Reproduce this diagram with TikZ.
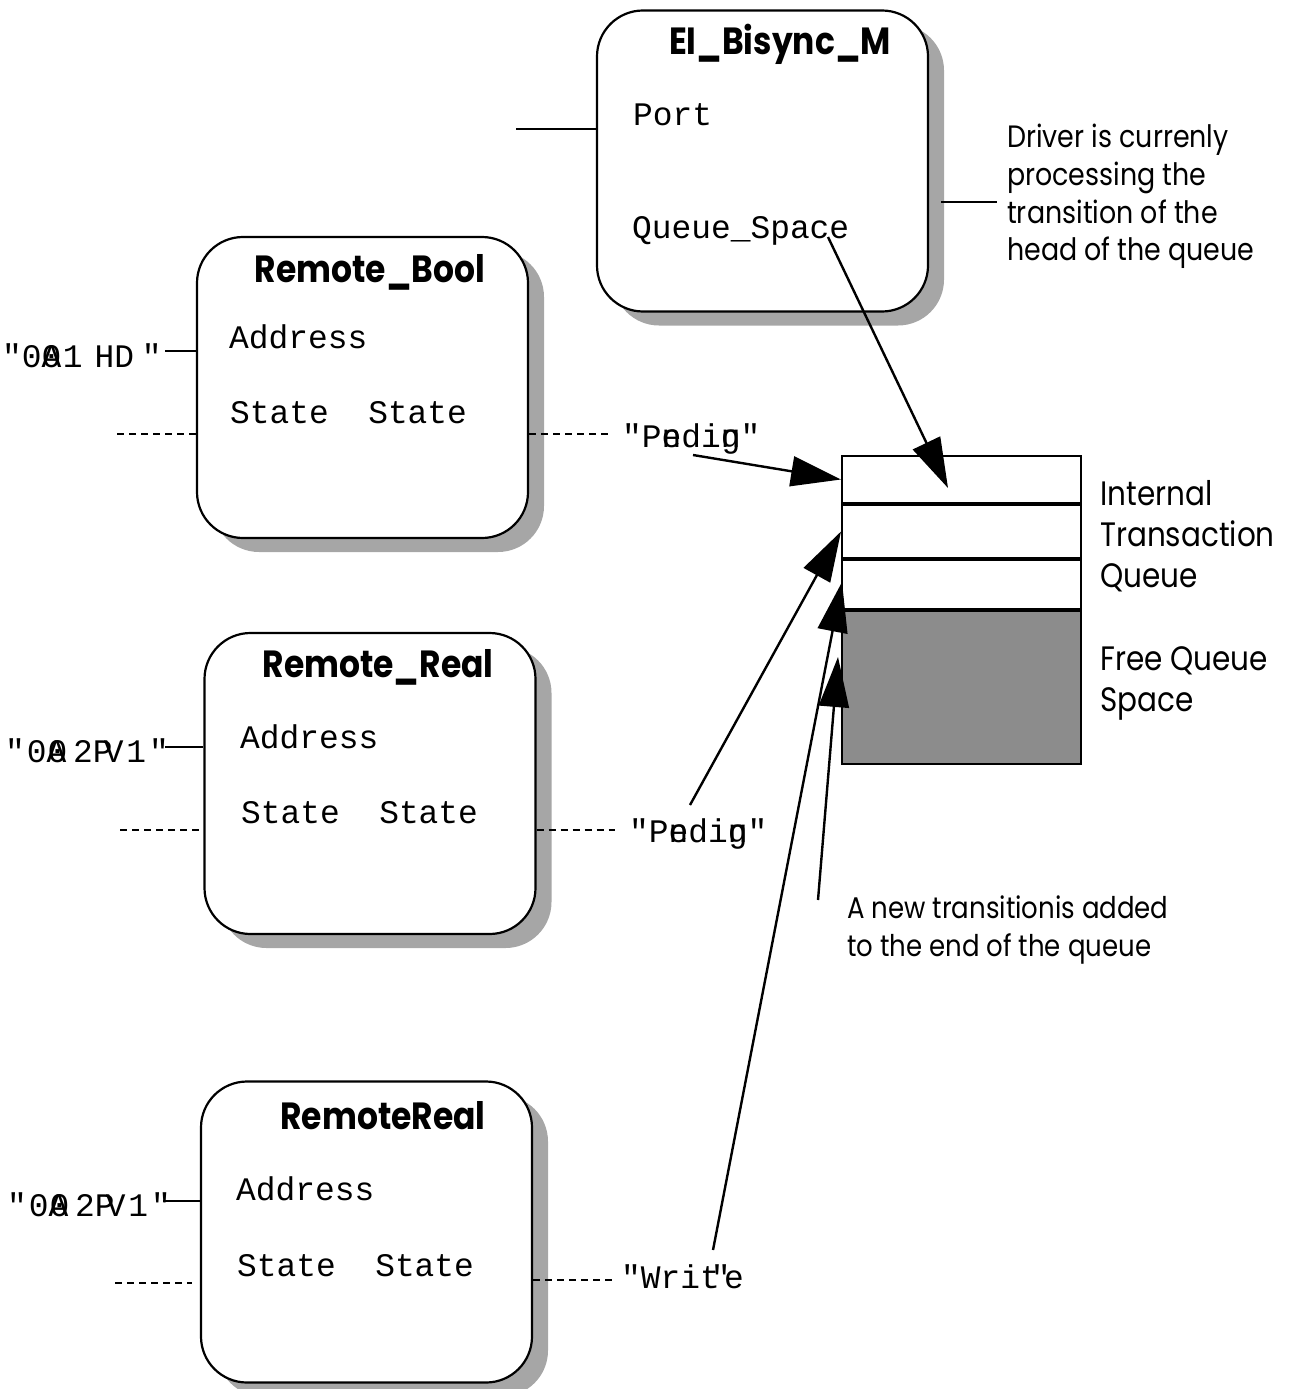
\documentclass[tikz,border=0pt]{standalone}
\usepackage{fontspec}
\setmonofont{Liberation Mono}
\newfontfamily\geo{Poppins}[FakeStretch=0.87]
\usetikzlibrary{arrows.meta,shadows,calc}

\begin{document}
\begin{tikzpicture}[x=1bp,y=-1bp,
  classbox/.style={draw, line width=2.2bp, rounded corners=46bp, fill=white,
    inner sep=0pt, minimum width=331bp, minimum height=301bp,
    drop shadow={shadow xshift=16bp, shadow yshift=-14bp, fill=black!35, opacity=1}},
  title/.style={font=\geo\bfseries\fontsize{38}{44}\selectfont, anchor=base, inner sep=0pt},
  attr/.style={font=\ttfamily\fontsize{33}{38}\selectfont, anchor=base west, inner sep=0pt},
  note/.style={font=\geo\fontsize{31}{38}\selectfont, anchor=base west, inner sep=0pt, align=left},
  bignote/.style={font=\geo\fontsize{34}{41}\selectfont, anchor=base west, inner sep=0pt, align=left},
  conn/.style={line width=2bp},
  dashline/.style={line width=1.6bp, dash pattern=on 7bp off 5bp},
  bigarrow/.style={line width=2.4bp, -{Triangle[length=50bp,width=30bp]}},
  slot/.style={draw, line width=2bp, minimum width=239bp, inner sep=0pt, anchor=north west},
]
\useasboundingbox (0,0) rectangle (1290,1389);

% ---------- driver object ----------
\node[classbox] (bisync) at (762.5,161) {};
\node[title] (bisynctitle) at (780,55) {EI\_Bisync\_M};
\node[attr] (port) at (633,126) {Port};
\node[attr] (qspace) at (632,239) {Queue\_Space};
\coordinate (portin) at (516,129);
\draw[conn] (portin) -- (portin -| bisync.west);

% multi-line notes are placed by the baseline of their last line
\node[note] (driver) at (1007,261) {Driver is currenly\\processing the\\transition of the\\head of the queue};
\coordinate (drvpt) at (997,202);
\draw[conn] ($(drvpt -| bisync.east)+(12,0)$) -- (drvpt);

% ---------- remote point objects ----------
\node[classbox] (rbool) at (362.5,387.5) {};
\node[title] (rbooltitle) at (370,282) {Remote\_Bool};
\node[attr] (rbooladdr) at (229,348) {Address};
\node[attr] (rboolstate) at (230,423) {State\ \ State};
\node[attr] (rboolid) at (2,367) {"0\rlap{A}0\kern.05em 1\kern.36em HD\kern.24em "};
\node[attr] (rboolval) at (622,447) {"P\rlap{e}ndi\rlap{n}g"};

\node[classbox] (rreal) at (370,783.5) {};
\node[title] (rrealtitle) at (378,677) {Remote\_Real};
\node[attr] (rrealaddr) at (240,748) {Address};
\node[attr] (rrealstate) at (241,823) {State\ \ State};
\node[attr] (rrealid) at (5,762) {"\kern.06em 0\rlap{A}\kern.03em 0\kern.18em 2P\kern-.27em V\kern.09em 1\kern.09em "};
\node[attr] (rrealval) at (629,842) {"P\rlap{e}ndi\rlap{n}g"};

\node[classbox] (rreal2) at (366.5,1232) {};
\node[title] (rreal2title) at (383,1129) {RemoteReal};
\node[attr] (rreal2addr) at (236,1200) {Address};
\node[attr] (rreal2state) at (237,1276) {State\ \ State};
\node[attr] (rreal2id) at (7,1216) {"\kern.06em 0\rlap{A}\kern.03em 0\kern.18em 2P\kern-.27em V\kern.09em 1\kern.09em "};
\node[attr] (rreal2val) at (621,1288) {"Wri\rlap{t}\kern.33em "\kern-.2em e};

% connectors of the remote points
\coordinate (rboolidend) at (165,351);
\draw[conn] (rboolidend) -- (rboolidend -| rbool.west);
\coordinate (rboolL) at (117,434);
\draw[dashline] (rboolL) -- (rboolL -| rbool.west);
\coordinate (rboolR) at (612,434);
\draw[dashline] (rboolR -| rbool.east) -- (rboolR);

\coordinate (rrealidend) at (165,747);
\draw[conn] (rrealidend) -- (rrealidend -| rreal.west);
\coordinate (rrealL) at (120,830);
\draw[dashline] (rrealL) -- (rrealL -| rreal.west);
\coordinate (rrealR) at (615,830);
\draw[dashline] (rrealR -| rreal.east) -- (rrealR);

\coordinate (rreal2idend) at (163,1201);
\draw[conn] (rreal2idend) -- (rreal2idend -| rreal2.west);
\coordinate (rreal2L) at (115,1283);
\coordinate (rreal2Lend) at (192,1283);
\draw[dashline] (rreal2L) -- (rreal2Lend);
\coordinate (rreal2R) at (615,1280);
\draw[dashline] (rreal2R -| rreal2.east) -- (rreal2R);

% ---------- transaction queue ----------
\node[slot, minimum height=47bp] (q1) at (841,455) {};
\node[slot, minimum height=53bp] (q2) at (q1.south west) {};
\node[slot, minimum height=49bp] (q3) at (q2.south west) {};
\node[slot, minimum height=153bp, fill=black!45] (qfree) at (q3.south west) {};

\node[bignote] (qlabel) at (1100,587) {Internal\\Transaction\\Queue};
\node[bignote] (freelabel) at (1100,711) {Free Queue\\Space};
\node[note, font=\geo\fontsize{30}{38}\selectfont] (newlabel) at (847,956) {A new transitionis added\\to the end of the queue};

% ---------- arrows into the queue ----------
\coordinate (headfrom) at (828,237);
\coordinate (headto) at (948,488);
\draw[bigarrow] (headfrom) -- (headto);

\coordinate (p1from) at (693,455);
\draw[bigarrow] (p1from) -- (q1.west);

\coordinate (p2from) at (690,805);
\draw[bigarrow] (p2from) -- (q2.west);

\coordinate (wfrom) at (713,1250);
\coordinate (wto) at (842,582);
\draw[bigarrow] (wfrom) -- (wto);

\coordinate (nfrom) at (818,900);
\coordinate (nto) at (838,657);
\draw[bigarrow] (nfrom) -- (nto);
\end{tikzpicture}
\end{document}
